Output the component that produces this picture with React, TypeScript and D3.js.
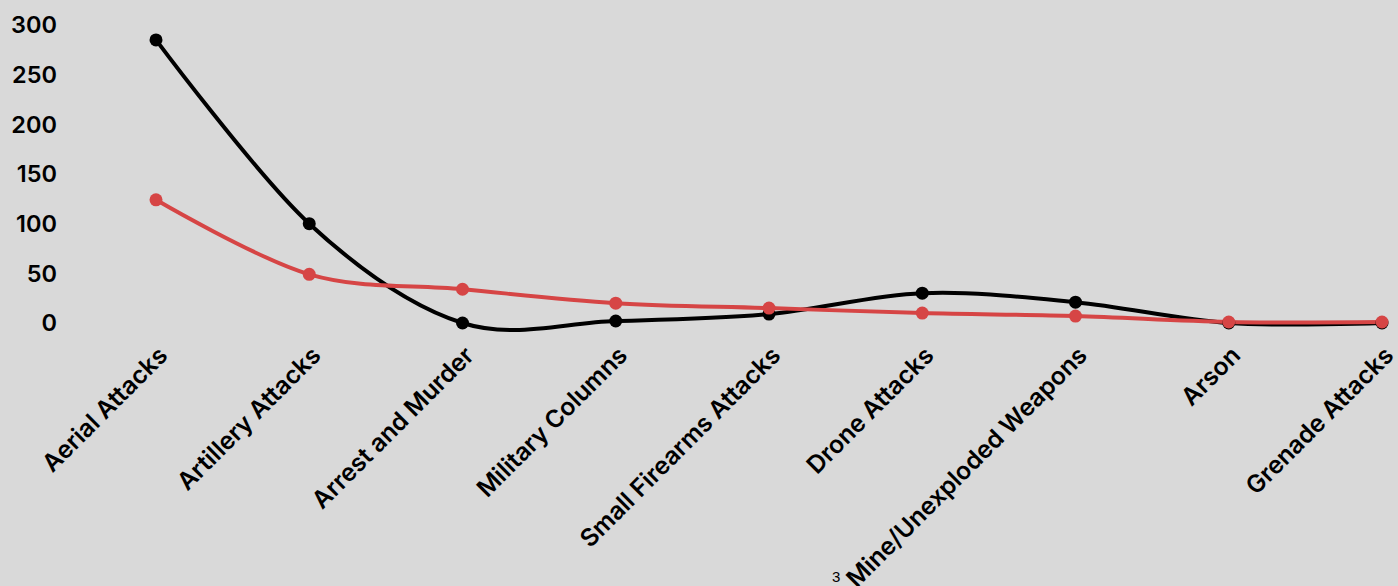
import React from "react";
import * as d3 from "d3";

const categories = [
  "Aerial Attacks",
  "Artillery Attacks",
  "Arrest and Murder",
  "Military Columns",
  "Small Firearms Attacks",
  "Drone Attacks",
  "Mine/Unexploded Weapons",
  "Arson",
  "Grenade Attacks",
];
const blackSeries = [285, 100, 0, 2, 9, 30, 21, 0, 0];
const redSeries = [124, 49, 34, 20, 15, 10, 7, 1, 1];
const yTicks = [0, 50, 100, 150, 200, 250, 300];

const W = 1398;
const H = 586;
const FONT = "Inter, 'Noto Sans', sans-serif";

export default function App() {
  const x = d3.scalePoint<string>().domain(categories).range([156, 1382]);
  const y = d3.scaleLinear().domain([0, 300]).range([323, 25]);
  const line = d3
    .line<number>()
    .x((_, i) => x(categories[i]) as number)
    .y((d) => y(d))
    .curve(d3.curveCardinal.tension(0));

  const series = [
    { values: redSeries, color: "#d64545" },
    { values: blackSeries, color: "#000000" },
  ];

  return (
    <svg
      width={W}
      height={H}
      style={{ position: "fixed", left: 0, top: 0 }}
      fontFamily={FONT}
    >
      <rect x={0} y={0} width={W} height={H} fill="#d9d9d9" />
      {yTicks.map((t) => (
        <text
          key={t}
          x={57}
          y={y(t)}
          dy="0.36em"
          textAnchor="end"
          fontSize={23.5}
          fontWeight={600}
          fill="#000"
        >
          {t}
        </text>
      ))}
      {categories.map((c) => {
        const cx = (x(c) as number) + 13;
        const cy = 357;
        return (
          <text
            key={c}
            x={cx}
            y={cy}
            textAnchor="end"
            fontSize={24.5}
            fontWeight={600}
            fill="#000"
            transform={`rotate(-45 ${cx} ${cy})`}
          >
            {c}
          </text>
        );
      })}
      {[...series].reverse().map((s, k) => (
        <g key={k}>
          <path d={line(s.values) ?? ""} fill="none" stroke={s.color} strokeWidth={4} />
        </g>
      ))}
      {[...series].reverse().map((s, k) => (
        <g key={"p" + k}>
          {s.values.map((v, i) => (
            <circle key={i} cx={x(categories[i]) as number} cy={y(v)} r={6.5} fill={s.color} />
          ))}
        </g>
      ))}
      <text x={832} y={582} fontSize={15} fontFamily="Arial, 'Liberation Sans', sans-serif" fill="#000">
        3
      </text>
    </svg>
  );
}
